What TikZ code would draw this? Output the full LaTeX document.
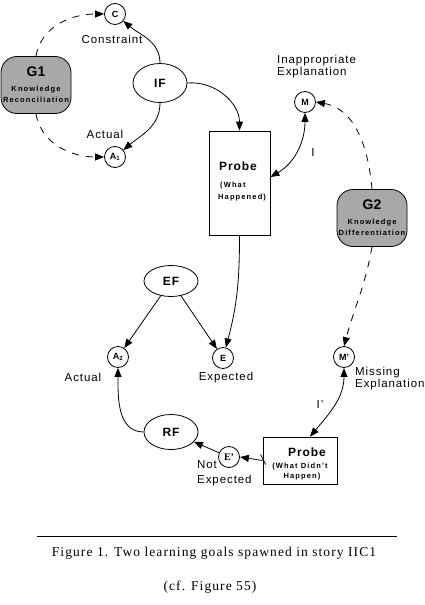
\documentclass[tikz,border=0pt]{standalone}
\usepackage{fontspec}
\setmainfont{Liberation Serif}
\setsansfont{Liberation Sans}
\newfontfamily\lbl[LetterSpace=8]{Liberation Sans}
\newfontfamily\tinylbl[LetterSpace=15]{Liberation Sans}
\newfontfamily\capfont[LetterSpace=8]{Liberation Serif}
\usetikzlibrary{shapes.geometric,arrows.meta}
\definecolor{goalgray}{RGB}{168,168,168}
\tikzset{
  base/.style={line width=0.8pt},
  sm/.style={base, circle, draw, minimum size=21pt, inner sep=0pt, font=\sffamily\bfseries\fontsize{9}{9}\selectfont},
  oval/.style={base, ellipse, draw, minimum width=54pt, inner sep=0pt, font=\lbl\bfseries\fontsize{12}{12}\selectfont},
  goal/.style={base, draw, fill=goalgray, rounded corners=16pt, minimum width=70pt, minimum height=57pt, inner sep=0pt, align=center},
  probebox/.style={base, draw, inner sep=0pt},
  lab/.style={font=\lbl\fontsize{11.5}{12}\selectfont, inner sep=0pt},
  boldlab/.style={font=\lbl\bfseries\fontsize{12}{12}\selectfont, inner sep=0pt},
  tinylab/.style={font=\tinylbl\bfseries\fontsize{7.5}{9}\selectfont, inner sep=0pt},
  tip/.tip={Triangle[length=9pt,width=7pt]},
  arr/.style={base, -tip},
  arrtwo/.style={base, tip-tip},
  dsh/.style={dash pattern=on 7pt off 7pt}
}
\begin{document}
\begin{tikzpicture}[x=1pt,y=-1pt]
\useasboundingbox (0,0) rectangle (424,605);
% nodes
\node[sm] (C) at (115,14) {C};
\node[sm] (A1) at (115,157) {A\textsubscript{1}};
\node[goal] (G1) at (36,85) {{\sffamily\bfseries\fontsize{14}{14}\selectfont G1}\\[3pt]{\tinylbl\bfseries\fontsize{7.5}{10}\selectfont Knowledge}\\[-1pt]{\tinylbl\bfseries\fontsize{7.5}{10}\selectfont Reconciliation}};
\node[oval, minimum height=39pt] (IF) at (160,83) {IF};
\node[lab] (lconstraint) at (112,39) {Constraint};
\node[lab] (lactual1) at (105,134) {Actual};
\node[probebox, minimum width=61pt, minimum height=104pt] (P1) at (239.5,183) {};
\node[boldlab] (p1title) at (238,166) {Probe};
\node[tinylab, anchor=west] (p1a) at (220,186) {(What};
\node[tinylab, anchor=west] (p1b) at (218,198) {Happened)};
\node[sm] (M) at (305,102) {M};
\node[lab, anchor=north west, align=left] (linapp) at (277,55) {Inappropriate\\Explanation};
\node[lab] (lI) at (313,153) {I};
\node[goal] (G2) at (372,218) {{\sffamily\bfseries\fontsize{14}{14}\selectfont G2}\\[3pt]{\tinylbl\bfseries\fontsize{7.5}{10}\selectfont Knowledge}\\[-1pt]{\tinylbl\bfseries\fontsize{7.5}{10}\selectfont Differentiation}};
\node[oval, minimum height=31pt] (EF) at (171,281) {EF};
\node[sm] (A2) at (118,357) {A\textsubscript{2}};
\node[sm] (E) at (223,358) {E};
\node[lab] (lactual2) at (83,377) {Actual};
\node[lab] (lexpected) at (226,378) {Expected};
\node[sm] (Mp) at (344,357) {M’};
\node[lab, anchor=north west, align=left] (lmissing) at (355,367) {Missing\\Explanation};
\node[lab] (lIp) at (320,405) {I’};
\node[oval, minimum height=35pt] (RF) at (171,432) {RF};
\node[sm, font=\rmfamily\bfseries\fontsize{10}{10}\selectfont] (Ep) at (229,457) {E’};
\node[lab, anchor=north west, align=left, font=\lbl\fontsize{11.5}{15}\selectfont] (lnot) at (197,460) {Not\\Expected};
\node[probebox, minimum width=74pt, minimum height=47pt] (P2) at (300,460.5) {};
\node[boldlab] (p2title) at (307,452) {Probe};
\node[tinylab] (p2a) at (300,467) {(What Didn’t};
\node[tinylab] (p2b) at (302,477) {Happen)};
% connectors
\draw[arr] (IF.north) to[out=90,in=-40] (C);
\draw[arr] (IF.south) to[out=-90,in=40] (A1);
\draw[arr] (IF.east) to[out=5,in=90] (P1.north);
\draw[arr,dsh] (G1.north) to[out=80,in=180] (C.west);
\draw[arr,dsh] (G1.south) to[out=-80,in=180] (A1.west);
\draw[arrtwo] (M.south) to[out=-90,in=30] ([yshift=6pt]P1.east);
\draw[arr,dsh] (G2.north) to[out=95,in=-10] (M.east);
\draw[arr] (P1.south) to[out=-90,in=75] (E);
\draw[arr] (EF) -- (A2);
\draw[arr] (EF) -- (E);
\draw[arr,dsh] (G2.south) to[out=-100,in=75] (Mp.north);
\draw[arrtwo] (Mp.south) to[out=-90,in=50] ([xshift=10pt]P2.north);
\draw[arr] (P2.west) -- (Ep.east);
\draw[base] ([shift={(-2pt,6pt)}]P2.west) -- ([shift={(3pt,-4pt)}]P2.west);
\draw[arr] (Ep) -- (RF);
\draw[arr] (RF.west) to[out=180,in=-90] (A2.south);
% caption
\coordinate (rulel) at (37,536);
\coordinate (ruler) at (397,536);
\draw[line width=0.8pt] (rulel) -- (ruler);
\node[font=\capfont\fontsize{13.5}{13.5}\selectfont, inner sep=0pt] (cap1) at (214,553) {Figure 1. Two learning goals spawned in story IIC1};
\node[font=\capfont\fontsize{13.5}{13.5}\selectfont, inner sep=0pt] (cap2) at (210,587) {(cf. Figure 55)};
\end{tikzpicture}
\end{document}
